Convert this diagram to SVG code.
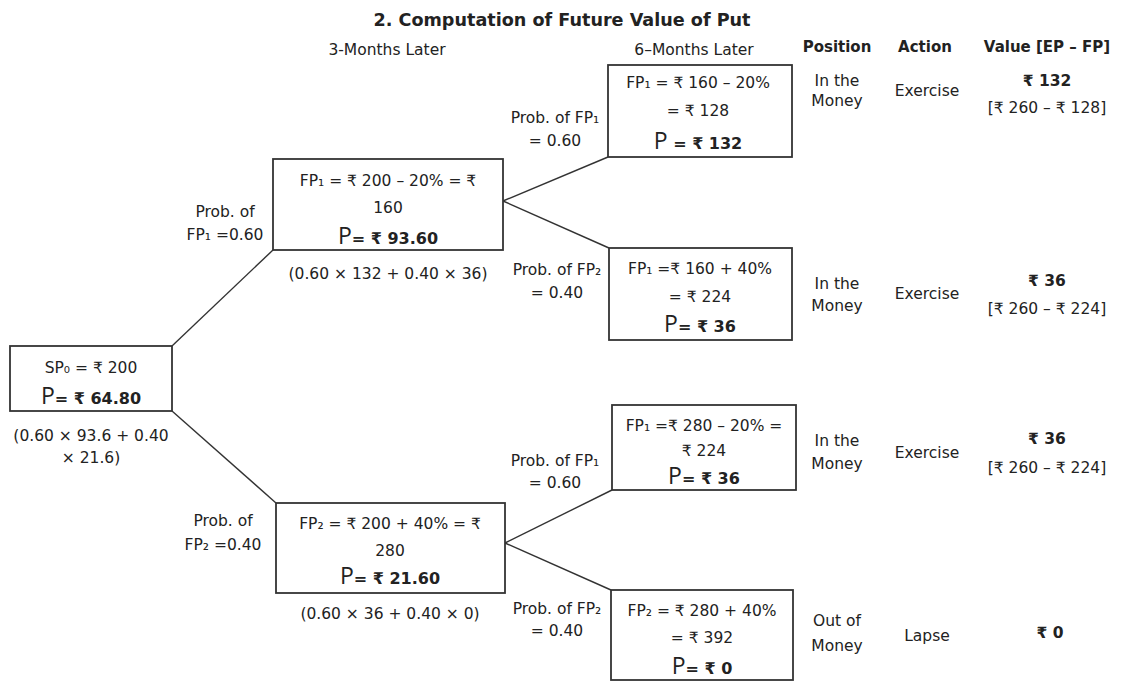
<svg xmlns="http://www.w3.org/2000/svg" width="1124" height="682" viewBox="0 0 1124 682">
<style>
text{font-family:"DejaVu Sans","Noto Sans",sans-serif;font-size:15.5px;fill:#222;text-anchor:middle}
.t{font-weight:bold;font-size:17.6px}
.h{font-weight:bold;font-size:15px}
.b{font-weight:bold}
.pb{font-weight:bold;font-size:16px}
.pp{font-family:"Open Sans","Noto Sans",sans-serif;font-size:23px;font-weight:normal}
.box{fill:#fff;stroke:#333;stroke-width:1.8}
.ln{stroke:#333;stroke-width:1.4;fill:none}
</style>
<rect width="1124" height="682" fill="#fff"/>
<text class="t" x="562" y="26">2. Computation of Future Value of Put</text>
<text x="387" y="55">3-Months Later</text>
<text x="694" y="55">6–Months Later</text>
<text class="h" x="837" y="52">Position</text>
<text class="h" x="925" y="52">Action</text>
<text class="h" x="1047" y="52">Value [EP – FP]</text>

<g id="connectors">
<line class="ln" x1="172" y1="346" x2="273" y2="250"/>
<line class="ln" x1="172" y1="411" x2="276" y2="503"/>
<line class="ln" x1="503" y1="201" x2="608" y2="157"/>
<line class="ln" x1="503" y1="201" x2="609" y2="248"/>
<line class="ln" x1="505" y1="543" x2="612" y2="490"/>
<line class="ln" x1="505" y1="543" x2="611" y2="590"/>
</g>

<g id="n0">
<rect class="box" x="10" y="346" width="162" height="65"/>
<text x="91" y="373">SP₀ = ₹ 200</text>
<text x="91" y="404"><tspan class="pp">P</tspan><tspan class="pb">= ₹ 64.80</tspan></text>
<text x="91" y="441">(0.60 × 93.6 + 0.40</text>
<text x="91" y="463">× 21.6)</text>
</g>

<g id="p1">
<text x="225" y="217">Prob. of</text>
<text x="225" y="240">FP₁ =0.60</text>
</g>
<g id="n1">
<rect class="box" x="273" y="159" width="230" height="91"/>
<text x="388" y="186">FP₁ = ₹ 200 – 20% = ₹</text>
<text x="388" y="213">160</text>
<text x="388" y="244"><tspan class="pp">P</tspan><tspan class="pb">= ₹ 93.60</tspan></text>
<text x="388" y="279">(0.60 × 132 + 0.40 × 36)</text>
</g>

<g id="p2">
<text x="223" y="526">Prob. of</text>
<text x="223" y="550">FP₂ =0.40</text>
</g>
<g id="n2">
<rect class="box" x="276" y="503" width="229" height="90"/>
<text x="390" y="529">FP₂ = ₹ 200 + 40% = ₹</text>
<text x="390" y="556">280</text>
<text x="390" y="584"><tspan class="pp">P</tspan><tspan class="pb">= ₹ 21.60</tspan></text>
<text x="390" y="619">(0.60 × 36 + 0.40 × 0)</text>
</g>

<g id="p11">
<text x="555" y="123">Prob. of FP₁</text>
<text x="555" y="146">= 0.60</text>
</g>
<g id="n11">
<rect class="box" x="608" y="65" width="184" height="92"/>
<text x="698" y="88">FP₁ = ₹ 160 – 20%</text>
<text x="698" y="116">= ₹ 128</text>
<text x="698" y="149"><tspan class="pp">P</tspan><tspan class="pb"> = ₹ 132</tspan></text>
</g>

<g id="p12">
<text x="557" y="275">Prob. of FP₂</text>
<text x="557" y="298">= 0.40</text>
</g>
<g id="n12">
<rect class="box" x="609" y="248" width="183" height="92"/>
<text x="700" y="274">FP₁ =₹ 160 + 40%</text>
<text x="700" y="302">= ₹ 224</text>
<text x="700" y="332"><tspan class="pp">P</tspan><tspan class="pb">= ₹ 36</tspan></text>
</g>

<g id="p21">
<text x="555" y="466">Prob. of FP₁</text>
<text x="555" y="488">= 0.60</text>
</g>
<g id="n21">
<rect class="box" x="612" y="405" width="184" height="85"/>
<text x="704" y="431">FP₁ =₹ 280 – 20% =</text>
<text x="704" y="456">₹ 224</text>
<text x="704" y="484"><tspan class="pp">P</tspan><tspan class="pb">= ₹ 36</tspan></text>
</g>

<g id="p22">
<text x="557" y="614">Prob. of FP₂</text>
<text x="557" y="636">= 0.40</text>
</g>
<g id="n22">
<rect class="box" x="611" y="590" width="182" height="90"/>
<text x="702" y="616">FP₂ = ₹ 280 + 40%</text>
<text x="702" y="643">= ₹ 392</text>
<text x="702" y="674"><tspan class="pp">P</tspan><tspan class="pb">= ₹ 0</tspan></text>
</g>

<g id="r1">
<text x="837" y="86">In the</text>
<text x="837" y="106">Money</text>
<text x="927" y="96">Exercise</text>
<text class="b" x="1047" y="86">₹ 132</text>
<text x="1047" y="113">[₹ 260 – ₹ 128]</text>
</g>
<g id="r2">
<text x="837" y="289">In the</text>
<text x="837" y="311">Money</text>
<text x="927" y="299">Exercise</text>
<text class="b" x="1047" y="286">₹ 36</text>
<text x="1047" y="314">[₹ 260 – ₹ 224]</text>
</g>
<g id="r3">
<text x="837" y="446">In the</text>
<text x="837" y="469">Money</text>
<text x="927" y="458">Exercise</text>
<text class="b" x="1047" y="444">₹ 36</text>
<text x="1047" y="473">[₹ 260 – ₹ 224]</text>
</g>
<g id="r4">
<text x="837" y="626">Out of</text>
<text x="837" y="651">Money</text>
<text x="927" y="641">Lapse</text>
<text class="b" x="1050" y="638">₹ 0</text>
</g>
</svg>
